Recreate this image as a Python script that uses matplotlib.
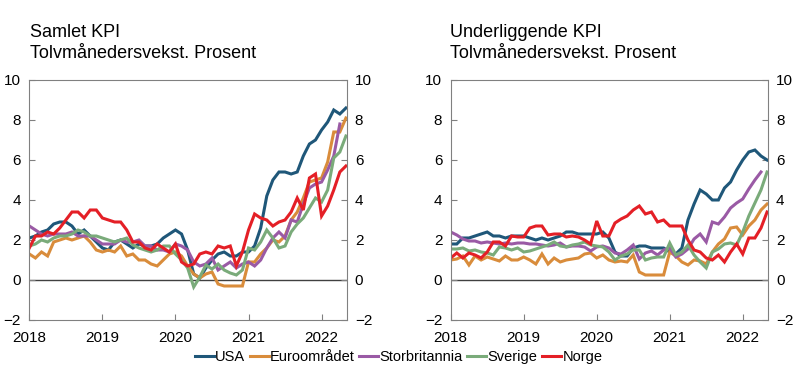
import numpy as np
import matplotlib
matplotlib.use("Agg")
import matplotlib.pyplot as plt

plt.rcParams['font.family'] = ['Liberation Sans', 'DejaVu Sans']

# Months from Jan 2018 to May 2022
year_ticks = [2018, 2019, 2020, 2021, 2022]

# Samlet KPI (headline)
usa = [2.1, 2.2, 2.4, 2.5, 2.8, 2.9, 2.9, 2.7, 2.3, 2.5, 2.2, 1.9,
       1.6, 1.5, 1.9, 2.0, 1.8, 1.6, 1.8, 1.7, 1.7, 1.8, 2.1, 2.3,
       2.5, 2.3, 1.5, 0.3, 0.1, 0.6, 1.0, 1.3, 1.4, 1.2, 1.2, 1.4,
       1.4, 1.7, 2.6, 4.2, 5.0, 5.4, 5.4, 5.3, 5.4, 6.2, 6.8, 7.0,
       7.5, 7.9, 8.5, 8.3, 8.6]
euro = [1.3, 1.1, 1.4, 1.2, 1.9, 2.0, 2.1, 2.0, 2.1, 2.2, 1.9, 1.5,
        1.4, 1.5, 1.4, 1.7, 1.2, 1.3, 1.0, 1.0, 0.8, 0.7, 1.0, 1.3,
        1.4, 1.2, 0.7, 0.3, 0.1, 0.3, 0.4, -0.2, -0.3, -0.3, -0.3, -0.3,
        0.9, 0.9, 1.3, 1.6, 2.0, 1.9, 2.2, 3.0, 3.4, 4.1, 4.9, 5.0,
        5.1, 5.9, 7.4, 7.4, 8.1]
uk = [2.7, 2.5, 2.3, 2.2, 2.3, 2.3, 2.3, 2.4, 2.2, 2.2, 2.2, 2.0,
      1.8, 1.8, 1.8, 2.0, 1.9, 1.9, 2.0, 1.7, 1.7, 1.5, 1.5, 1.4,
      1.8, 1.7, 1.5, 0.9, 0.7, 0.8, 1.1, 0.5, 0.7, 0.9, 0.6, 0.8,
      0.9, 0.7, 1.0, 1.6, 2.1, 2.4, 2.1, 3.0, 2.9, 3.8, 4.6, 4.8,
      4.9, 5.5, 6.2, 7.8]
sweden = [1.7, 1.8, 2.0, 1.9, 2.1, 2.2, 2.2, 2.3, 2.5, 2.4, 2.2, 2.2,
          2.1, 2.0, 1.9, 2.0, 2.1, 1.75, 1.6, 1.5, 1.4, 1.5, 1.7, 1.7,
          1.3, 1.0, 0.6, -0.35, 0.15, 0.75, 0.55, 0.8, 0.5, 0.35, 0.25, 0.5,
          1.6, 1.5, 1.9, 2.5, 2.1, 1.6, 1.7, 2.4, 2.8, 3.1, 3.6, 4.1,
          3.9, 4.5, 6.1, 6.4, 7.2]
norway = [1.6, 2.2, 2.2, 2.4, 2.3, 2.6, 3.0, 3.4, 3.4, 3.1, 3.5, 3.5,
          3.1, 3.0, 2.9, 2.9, 2.5, 1.9, 1.9, 1.6, 1.5, 1.8, 1.6, 1.4,
          1.8, 0.9, 0.7, 0.8, 1.3, 1.4, 1.3, 1.7, 1.6, 1.7, 0.7, 1.4,
          2.5, 3.3, 3.1, 3.0, 2.7, 2.9, 3.0, 3.4, 4.1, 3.5, 5.1, 5.3,
          3.2, 3.7, 4.5, 5.4, 5.7]

# Underliggende KPI (core)
usa_core = [1.8, 1.8, 2.1, 2.1, 2.2, 2.3, 2.4, 2.2, 2.2, 2.1, 2.2, 2.2,
            2.2, 2.1, 2.0, 2.1, 2.0, 2.1, 2.2, 2.4, 2.4, 2.3, 2.3, 2.3,
            2.3, 2.4, 2.1, 1.4, 1.2, 1.2, 1.6, 1.7, 1.7, 1.6, 1.6, 1.6,
            1.4, 1.3, 1.6, 3.0, 3.8, 4.5, 4.3, 4.0, 4.0, 4.6, 4.9, 5.5,
            6.0, 6.4, 6.5, 6.2, 6.0]
euro_core = [1.0, 1.05, 1.2, 0.75, 1.2, 1.0, 1.15, 1.05, 0.95, 1.2, 1.0, 1.0,
             1.15, 1.0, 0.8, 1.3, 0.8, 1.1, 0.9, 1.0, 1.05, 1.1, 1.3, 1.35,
             1.1, 1.25, 1.0, 0.9, 0.95, 0.9, 1.25, 0.4, 0.25, 0.25, 0.25, 0.25,
             1.4, 1.2, 0.9, 0.75, 1.0, 0.95, 0.8, 1.4, 1.8, 2.05, 2.6, 2.65,
             2.25, 2.7, 3.0, 3.5, 3.8]
uk_core = [2.4, 2.25, 2.05, 1.95, 1.95, 1.85, 1.9, 1.85, 1.8, 1.85, 1.8, 1.85,
           1.85, 1.8, 1.8, 1.75, 1.7, 1.75, 1.85, 1.65, 1.7, 1.7, 1.65, 1.45,
           1.65, 1.7, 1.6, 1.35, 1.3, 1.5, 1.75, 1.05, 1.35, 1.45, 1.25, 1.5,
           1.6, 1.15, 1.3, 1.55, 2.05, 2.3, 1.9, 2.9, 2.8, 3.15, 3.6, 3.85,
           4.05, 4.55, 5.0, 5.4]
sweden_core = [1.55, 1.55, 1.6, 1.45, 1.5, 1.4, 1.35, 1.25, 1.65, 1.6, 1.5, 1.6,
               1.4, 1.45, 1.55, 1.65, 1.75, 1.9, 1.7, 1.65, 1.75, 1.8, 1.9, 1.75,
               1.7, 1.65, 1.4, 1.0, 1.2, 1.3, 1.5, 1.5, 1.0, 1.1, 1.15, 1.15,
               1.85, 1.25, 1.4, 1.75, 1.25, 0.9, 0.6, 1.4, 1.55, 1.8, 1.85, 1.75,
               2.4, 3.2, 3.85, 4.5, 5.4]
norway_core = [1.1, 1.35, 1.1, 1.35, 1.25, 1.1, 1.4, 1.9, 1.9, 1.7, 2.2, 2.15,
               2.15, 2.6, 2.7, 2.7, 2.25, 2.3, 2.3, 2.15, 2.2, 2.15, 2.0, 1.8,
               2.95, 2.2, 2.2, 2.85, 3.05, 3.2, 3.5, 3.7, 3.3, 3.4, 2.9, 3.0,
               2.7, 2.7, 2.7, 2.0, 1.5, 1.4, 1.1, 1.0, 1.25, 0.9, 1.4, 1.8,
               1.3, 2.1, 2.1, 2.6, 3.4]

names = ["USA", "Euroområdet", "Storbritannia", "Sverige", "Norge"]
colors = ["#1f5779", "#d98c3b", "#9a5aa5", "#7aab7a", "#e41f26"]

fig = plt.figure(figsize=(7.97, 3.91), dpi=100)
ax1 = fig.add_axes([0.0368, 0.1816, 0.398, 0.6138])
ax2 = fig.add_axes([0.5655, 0.1816, 0.3977, 0.6138])

panels = [
    (ax1, [usa, euro, uk, sweden, norway], "Samlet KPI", 30),
    (ax2, [usa_core, euro_core, uk_core, sweden_core, norway_core], "Underliggende KPI", 450),
]

grey = "#808080"
for ax, series, title, tx in panels:
    lines = []
    for s, c, n in zip(series, colors, names):
        x = 2018 + np.arange(len(s)) / 12
        ln, = ax.plot(x, s, color=c, lw=2.2, label=n, solid_joinstyle="miter")
        lines.append(ln)
    ax.axhline(0, color="#404040", lw=1, zorder=1)
    ax.set_xlim(2018, 2018 + 52.1 / 12)
    ax.set_ylim(-2, 10)
    ax.set_yticks(range(-2, 11, 2))
    ax.set_xticks(year_ticks)
    ax.tick_params(direction="in", length=4, color=grey, labelsize=11,
                   right=True, labelright=True)
    ax.tick_params(axis="y", pad=6)
    ax.tick_params(axis="x", pad=8)
    for sp in ax.spines.values():
        sp.set_color(grey)
    fig.text(tx / 797, 1 - 37 / 391, title, fontsize=13)
    fig.text(tx / 797, 1 - 58 / 391, "Tolvmånedersvekst. Prosent", fontsize=13)

fig.legend(lines, names, loc="center", bbox_to_anchor=(0.5, 1 - 357 / 391),
           ncol=5, frameon=False, fontsize=10.5, handlelength=1.3,
           handletextpad=0.1, columnspacing=0.3, borderaxespad=0)

fig.savefig("out.png", dpi=100)
